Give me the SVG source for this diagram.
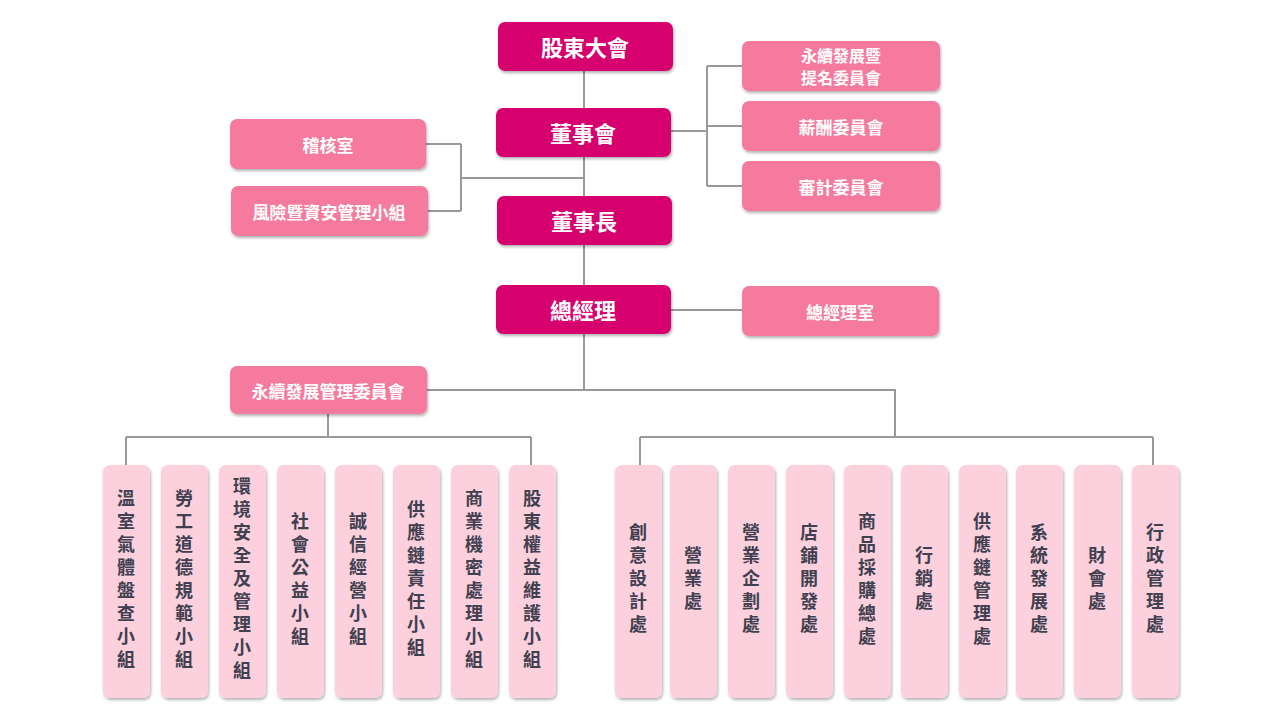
<svg xmlns="http://www.w3.org/2000/svg" width="1280" height="720" viewBox="0 0 1280 720">
<defs>
<filter id="sh" x="-20%" y="-20%" width="140%" height="140%"><feDropShadow dx="1" dy="2" stdDeviation="1.5" flood-color="#000" flood-opacity="0.3"/></filter>
</defs>
<style>
.d{fill:#D6006E;filter:url(#sh)}
.m{fill:#F67A9E;filter:url(#sh)}
.l{fill:#FCD0DD;filter:url(#sh)}
.t{font-family:"Noto Sans CJK TC","Noto Sans CJK SC",sans-serif;font-weight:bold;text-anchor:middle;dominant-baseline:central}
.tw{fill:#fff;font-size:22px}
.tm{fill:#fff;font-size:17px}
.tv{fill:#404050;font-size:18px;writing-mode:vertical-rl;letter-spacing:5px}
.c{stroke:#999;stroke-width:2;fill:none}
</style>
<rect width="1280" height="720" fill="#fff"/>
<g id="connectors">
<path class="c" d="M584 71V285M671 131H707M707 66V186M707 66H742M707 126H742M707 186H742M426 144H461M428 211H461M461 144V211M461 178H584M671 310H742M584 334V390M427 390H895V437M328 414V437M126 437H531M126 437V465M531 437V465M640 437H1153M640 437V465M1153 437V465"/>
</g>
<g id="n1"><rect class="d" x="498" y="22" width="175" height="49" rx="7"/><text class="t tw" x="585" y="46">股東大會</text></g>
<g id="n2"><rect class="d" x="496" y="108" width="175" height="49" rx="7"/><text class="t tw" x="583" y="132">董事會</text></g>
<g id="n3"><rect class="d" x="497" y="196" width="175" height="49" rx="7"/><text class="t tw" x="584" y="220">董事長</text></g>
<g id="n4"><rect class="d" x="496" y="285" width="175" height="49" rx="7"/><text class="t tw" x="583" y="309">總經理</text></g>
<g id="r1"><rect class="m" x="742" y="41" width="198" height="50" rx="7"/><text class="t tm" x="841" y="55" style="font-size:16px">永續發展暨</text><text class="t tm" x="841" y="77" style="font-size:16px">提名委員會</text></g>
<g id="r2"><rect class="m" x="742" y="101" width="198" height="50" rx="7"/><text class="t tm" x="841" y="126">薪酬委員會</text></g>
<g id="r3"><rect class="m" x="742" y="161" width="198" height="50" rx="7"/><text class="t tm" x="841" y="186">審計委員會</text></g>
<g id="l1"><rect class="m" x="230" y="119" width="196" height="50" rx="7"/><text class="t tm" x="328" y="144">稽核室</text></g>
<g id="l2"><rect class="m" x="231" y="186" width="197" height="50" rx="7"/><text class="t tm" x="329" y="211">風險暨資安管理小組</text></g>
<g id="gm"><rect class="m" x="742" y="286" width="197" height="50" rx="7"/><text class="t tm" x="840" y="311">總經理室</text></g>
<g id="sc"><rect class="m" x="230" y="366" width="197" height="48" rx="7"/><text class="t tm" x="328" y="390">永續發展管理委員會</text></g>
<g id="v1"><rect class="l" x="103" y="465" width="47" height="233" rx="7"/><text class="t tv" x="126" y="581">溫室氣體盤查小組</text></g>
<g id="v2"><rect class="l" x="161" y="465" width="47" height="233" rx="7"/><text class="t tv" x="184" y="581">勞工道德規範小組</text></g>
<g id="v3"><rect class="l" x="219" y="465" width="47" height="233" rx="7"/><text class="t tv" x="242" y="581">環境安全及管理小組</text></g>
<g id="v4"><rect class="l" x="277" y="465" width="47" height="233" rx="7"/><text class="t tv" x="300" y="581">社會公益小組</text></g>
<g id="v5"><rect class="l" x="335" y="465" width="47" height="233" rx="7"/><text class="t tv" x="358" y="581">誠信經營小組</text></g>
<g id="v6"><rect class="l" x="393" y="465" width="47" height="233" rx="7"/><text class="t tv" x="416" y="581">供應鏈責任小組</text></g>
<g id="v7"><rect class="l" x="451" y="465" width="47" height="233" rx="7"/><text class="t tv" x="474" y="581">商業機密處理小組</text></g>
<g id="v8"><rect class="l" x="509" y="465" width="47" height="233" rx="7"/><text class="t tv" x="532" y="581">股東權益維護小組</text></g>
<g id="w1"><rect class="l" x="615" y="465" width="47" height="233" rx="7"/><text class="t tv" x="638" y="581">創意設計處</text></g>
<g id="w2"><rect class="l" x="670" y="465" width="47" height="233" rx="7"/><text class="t tv" x="693" y="581">營業處</text></g>
<g id="w3"><rect class="l" x="728" y="465" width="47" height="233" rx="7"/><text class="t tv" x="751" y="581">營業企劃處</text></g>
<g id="w4"><rect class="l" x="786" y="465" width="47" height="233" rx="7"/><text class="t tv" x="809" y="581">店鋪開發處</text></g>
<g id="w5"><rect class="l" x="844" y="465" width="47" height="233" rx="7"/><text class="t tv" x="867" y="581">商品採購總處</text></g>
<g id="w6"><rect class="l" x="901" y="465" width="47" height="233" rx="7"/><text class="t tv" x="924" y="581">行銷處</text></g>
<g id="w7"><rect class="l" x="959" y="465" width="47" height="233" rx="7"/><text class="t tv" x="982" y="581">供應鏈管理處</text></g>
<g id="w8"><rect class="l" x="1016" y="465" width="47" height="233" rx="7"/><text class="t tv" x="1039" y="581">系統發展處</text></g>
<g id="w9"><rect class="l" x="1074" y="465" width="47" height="233" rx="7"/><text class="t tv" x="1097" y="581">財會處</text></g>
<g id="w10"><rect class="l" x="1132" y="465" width="47" height="233" rx="7"/><text class="t tv" x="1155" y="581">行政管理處</text></g>
</svg>
